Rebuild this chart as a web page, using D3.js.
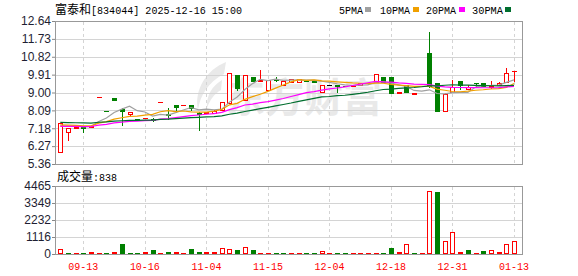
<!DOCTYPE html>
<html>
<head>
<meta charset="utf-8">
<script src="https://cdn.jsdelivr.net/npm/d3@7"></script>
<style>
  body { margin: 0; background: #fff; }
  svg { display: block; }
</style>
</head>
<body>
<svg id="kline" width="578" height="276"></svg>
<script>
// bars, oldest first
var open  = [5.97,6.98,7.20,7.22,7.26,8.76,8.04,8.73,8.17,7.90, 7.64,7.70,7.66,8.51,7.90,8.37,8.37,8.37,7.98,7.96,
             7.96,8.12,8.46,9.90,8.63,9.81,9.61,9.13,9.68,9.39, 9.55,9.52,9.60,9.57,9.02,9.39,9.37,9.34,9.31,9.39,
             9.46,9.53,9.81,9.81,8.97,9.37,8.94,9.35,11.02,9.48, 8.07,9.05,9.58,9.18,9.48,9.47,9.26,9.40,9.53,10.08];
var high  = [7.45,7.18,7.22,7.22,7.30,8.76,8.04,8.73,8.20,8.03, 7.64,7.70,7.68,8.51,8.20,8.37,8.37,8.37,8.00,8.02,
             8.12,8.54,9.98,9.90,9.90,9.81,10.15,9.64,9.80,9.60, 9.68,9.69,9.60,9.57,9.39,9.39,9.39,9.34,9.36,9.46,
             9.48,9.95,9.81,9.81,9.01,9.39,8.96,9.35,12.06,9.48, 8.96,9.64,9.60,9.40,9.48,9.47,9.59,9.52,10.24,10.10];
var low   = [5.97,6.60,7.20,6.98,7.25,8.76,8.04,8.63,7.36,7.85, 7.62,7.70,7.56,8.51,7.64,8.03,8.37,8.12,7.07,7.95,
             7.95,8.10,8.46,9.13,8.63,9.59,9.61,9.13,9.60,9.39, 9.55,9.52,9.57,9.54,9.02,9.39,9.05,9.31,9.31,9.39,
             9.46,9.53,9.51,9.00,8.97,9.05,8.94,9.33,9.30,8.07, 8.07,9.05,9.18,9.17,9.35,9.31,9.25,9.38,9.53,9.60];
var close = [7.45,7.18,7.22,7.18,7.29,8.76,8.04,8.63,8.05,8.03, 7.62,7.70,7.58,8.51,7.84,8.24,8.37,8.21,7.93,8.02,
             8.08,8.54,9.98,9.25,9.90,9.59,9.63,9.64,9.62,9.60, 9.68,9.69,9.57,9.54,9.39,9.39,9.33,9.31,9.36,9.46,
             9.48,9.95,9.51,9.00,9.01,9.05,8.96,9.33,9.34,8.07, 8.93,9.30,9.40,9.30,9.46,9.31,9.33,9.50,9.97,10.10];
var volume = [330,40,50,60,110,50,60,150,675,60, 60,110,280,50,110,150,50,330,110,150,
              110,370,350,260,460,260,40,40,40,40, 30,30,40,40,217,30,40,40,30,30,
              30,30,40,370,110,670,40,30,4120,4080, 825,1475,150,240,40,175,280,110,670,838];
// 1 = red (up) volume bar, 0 = green
var volUp = [1,0,1,0,1,1,0,1,0,0, 0,1,0,1,0,1,1,0,0,1, 1,1,1,0,1,0,1,1,0,0,
             1,1,0,0,1,1,0,0,1,1, 1,1,0,0,1,1,0,1,1,0, 1,1,1,0,1,0,1,1,1,1];

var priceTicks = [5.36,6.27,7.18,8.09,9.00,9.91,10.82,11.73,12.64];
var volTicks = [0,1116,2232,3349,4465];
var tickIdx = [3,11,19,27,35,43,51,59];
var tickLabels = ["09-13","10-16","11-04","11-15","12-04","12-18","12-31","01-13"];
var maDays = [5,10,20,30];
var maNames = ["5PMA","10PMA","20PMA","30PMA"];
// price level of the bars before the window, as the lines show it at the left edge
var maPrior = [7.27,7.34,7.27,7.48];

var RED = "#ff0000", GREEN = "#008000";
var maColors = ["#a0a0a0","#f0a000","#ff00ff","#006e2e"];
var numFont = "'Liberation Sans', Arial, sans-serif",
    monoFont = "'Liberation Mono', 'DejaVu Sans Mono', monospace",
    cjkFont = "'Noto Sans CJK SC', sans-serif";

var svg = d3.select("#kline"),
    left = 55.5, right = 522.5;

var x = d3.scalePoint().domain(d3.range(close.length)).range([60.3, 514]);
var y = d3.scaleLinear().domain([5.36, 12.64]).range([164, 21]);
var vy = d3.scaleLinear().domain([0, 4465]).range([254, 186]);
var cr = v => Math.round(v) + 0.5;

// watermark
var wm = svg.append("g").attr("fill", "#e9e9e9");
wm.append("path")
  .attr("d", "M226,62 C206,70 194,90 198,110 C200,96 208,82 224,74 Z M222,80 C212,86 206,96 207,108 C210,100 214,94 221,90 Z");
wm.append("text").attr("x", 226).attr("y", 112)
  .attr("textLength", 156).attr("lengthAdjust", "spacingAndGlyphs")
  .style("font-family", cjkFont).style("font-size", "40px").style("font-weight", "bold")
  .text("东方财富");

// grid
var grid = svg.append("g").attr("stroke", "#d4d4d4").attr("shape-rendering", "crispEdges");
priceTicks.forEach(function (t) {
  grid.append("line").attr("x1", left).attr("x2", right).attr("y1", cr(y(t))).attr("y2", cr(y(t)));
});
volTicks.forEach(function (t) {
  grid.append("line").attr("x1", left).attr("x2", right).attr("y1", cr(vy(t))).attr("y2", cr(vy(t)));
});
tickIdx.forEach(function (i) {
  var gx = cr(x(i));
  grid.append("line").attr("x1", gx).attr("x2", gx).attr("y1", 21.5).attr("y2", 164.5)
    .attr("stroke-dasharray", "3,3");
  grid.append("line").attr("x1", gx).attr("x2", gx).attr("y1", 186.5).attr("y2", 254.5)
    .attr("stroke-dasharray", "3,3");
});

// frames
svg.append("rect").attr("x", left).attr("y", 21.5).attr("width", right - left).attr("height", 143)
  .attr("fill", "none").attr("stroke", "#999");
svg.append("rect").attr("x", left).attr("y", 186.5).attr("width", right - left).attr("height", 68)
  .attr("fill", "none").attr("stroke", "#999");

function candleColor(i) {
  if (close[i] > open[i]) return RED;
  if (close[i] < open[i]) return GREEN;
  if (i == 0) return RED;
  return close[i] > close[i-1] ? RED : (close[i] < close[i-1] ? GREEN : "#000");
}

// candles
var cg = svg.append("g").attr("shape-rendering", "crispEdges")
  .selectAll("g").data(d3.range(close.length)).join("g");
cg.each(function (i) {
  var g = d3.select(this), c = Math.round(x(i)), col = candleColor(i);
  g.append("line").attr("x1", c + 0.5).attr("x2", c + 0.5)
    .attr("y1", Math.round(y(high[i]))).attr("y2", Math.round(y(low[i])) + 1)
    .attr("stroke", col);
  var yo = Math.round(y(open[i])), yc = Math.round(y(close[i]));
  if (yo == yc) {
    g.append("rect").attr("x", c - 2).attr("y", yc).attr("width", 5).attr("height", 1).attr("fill", col);
  } else if (close[i] > open[i]) {
    g.append("rect").attr("x", c - 1.5).attr("y", yc + 0.5).attr("width", 4).attr("height", yo - yc)
      .attr("fill", "#fff").attr("stroke", RED);
  } else {
    g.append("rect").attr("x", c - 2).attr("y", yo).attr("width", 5).attr("height", yc - yo + 1)
      .attr("fill", GREEN);
  }
});

// moving averages (window padded with the prior level at the left edge)
maDays.forEach(function (n, k) {
  var ma = close.map(function (c, i) {
    var part = close.slice(Math.max(0, i - n + 1), i + 1);
    return (d3.sum(part) + (n - part.length) * maPrior[k]) / n;
  });
  svg.append("path").datum(ma)
    .attr("fill", "none").attr("stroke", maColors[k]).attr("stroke-width", 1.2)
    .attr("d", d3.line().x(function (d, i) { return x(i); }).y(function (d) { return y(d); }));
});

// volume bars
var vg = svg.append("g").attr("shape-rendering", "crispEdges")
  .selectAll("g").data(d3.range(volume.length)).join("g");
vg.each(function (i) {
  var g = d3.select(this), c = Math.round(x(i)), top = Math.round(vy(volume[i])), h = 254 - top;
  if (volUp[i]) {
    if (h >= 3) {
      g.append("rect").attr("x", c - 1.5).attr("y", top + 0.5).attr("width", 4).attr("height", h - 1)
        .attr("fill", "#fff").attr("stroke", RED);
    } else {
      g.append("rect").attr("x", c - 2).attr("y", 254 - Math.max(h, 1)).attr("width", 5)
        .attr("height", Math.max(h, 1)).attr("fill", RED);
    }
  } else {
    g.append("rect").attr("x", c - 2).attr("y", 254 - Math.max(h, 1)).attr("width", 5)
      .attr("height", Math.max(h, 1)).attr("fill", GREEN);
  }
});

// axes
function styleAxis(g) {
  g.select(".domain").remove();
  g.selectAll(".tick line").attr("stroke", "#888");
  g.selectAll(".tick text").style("font-family", numFont).style("font-size", "12px").attr("fill", "#1e1e32");
}
svg.append("g").attr("transform", "translate(55,0)")
  .call(d3.axisLeft(y).tickValues(priceTicks).tickSize(3).tickPadding(1).tickFormat(d3.format(".2f")))
  .call(styleAxis);
svg.append("g").attr("transform", "translate(55,0)")
  .call(d3.axisLeft(vy).tickValues(volTicks).tickSize(3).tickPadding(1).tickFormat(d3.format("d")))
  .call(styleAxis);

// date labels
svg.append("g").selectAll("text").data(tickIdx).join("text")
  .attr("x", function (i) { return x(i); }).attr("y", 270)
  .attr("text-anchor", "middle").attr("fill", RED)
  .attr("textLength", 30).attr("lengthAdjust", "spacingAndGlyphs")
  .style("font-family", monoFont).style("font-size", "11.5px")
  .text(function (i, k) { return tickLabels[k]; });

// title and legend
svg.append("text").attr("x", 55).attr("y", 14)
  .style("font-family", cjkFont).style("font-size", "12px").text("富泰和");
svg.append("text").attr("x", 91).attr("y", 14)
  .attr("textLength", 151).attr("lengthAdjust", "spacingAndGlyphs")
  .style("font-family", monoFont).style("font-size", "11.5px").text("[834044] 2025-12-16 15:00");

var legX = [339, 380, 426, 472], legW = [24, 30, 30, 31], boxX = [365, 413, 459, 505];
maNames.forEach(function (name, k) {
  svg.append("text").attr("x", legX[k]).attr("y", 14)
    .attr("textLength", legW[k]).attr("lengthAdjust", "spacingAndGlyphs")
    .style("font-family", monoFont).style("font-size", "11.5px").text(name);
  svg.append("rect").attr("x", boxX[k]).attr("y", 7).attr("width", 6).attr("height", 5)
    .attr("fill", maColors[k]);
});

svg.append("text").attr("x", 57).attr("y", 181)
  .style("font-family", cjkFont).style("font-size", "12px").text("成交量");
svg.append("text").attr("x", 93).attr("y", 181)
  .attr("textLength", 24).attr("lengthAdjust", "spacingAndGlyphs")
  .style("font-family", monoFont).style("font-size", "11.5px")
  .text(":" + volume[volume.length - 1]);
</script>
</body>
</html>
